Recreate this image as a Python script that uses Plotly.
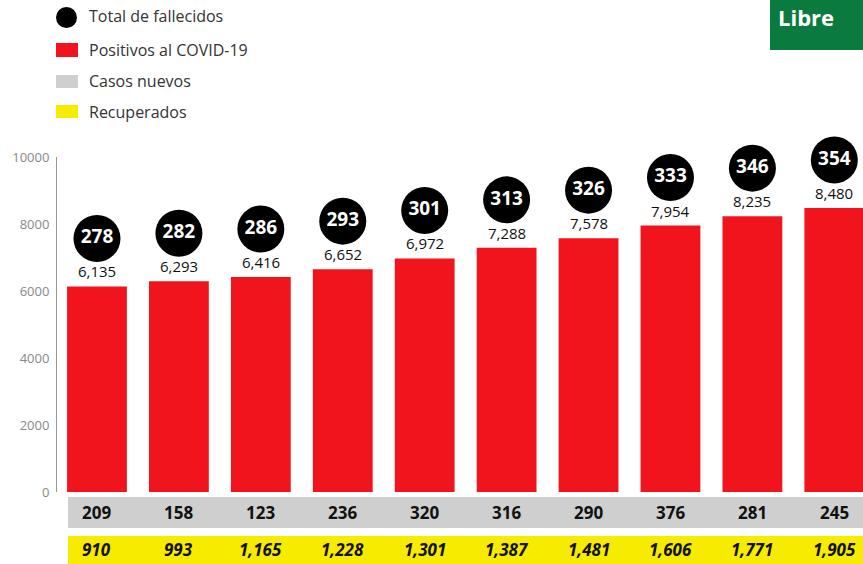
import plotly.graph_objects as go

categories = list(range(10))
positivos = [6135, 6293, 6416, 6652, 6972, 7288, 7578, 7954, 8235, 8480]
fallecidos = [278, 282, 286, 293, 301, 313, 326, 333, 346, 354]
casos_nuevos = [209, 158, 123, 236, 320, 316, 290, 376, 281, 245]
recuperados = [910, 993, 1165, 1228, 1301, 1387, 1481, 1606, 1771, 1905]
yticks = [0, 2000, 4000, 6000, 8000, 10000]

W, H = 863, 564
ML, MR, MT, MB = 57, 0, 157, 72
plot_h = H - MT - MB
px_per_unit = plot_h / 10000.0
circle_offset = 48 / px_per_unit

RED = "#f2141c"
GRAY = "#cfcfcf"
YELLOW = "#f7ec00"
FONT = "Open Sans"

fig = go.Figure()
fig.add_trace(go.Bar(x=categories, y=positivos, marker=dict(color=RED, line=dict(width=0)),
                     width=0.73, showlegend=False, hoverinfo="skip"))
fig.add_trace(go.Scatter(x=categories, y=[v + circle_offset for v in positivos],
                         mode="markers+text", text=[str(v) for v in fallecidos],
                         textposition="middle center",
                         textfont=dict(color="white", size=19, family=FONT, weight="bold"),
                         marker=dict(color="black", size=47, line=dict(width=0)),
                         cliponaxis=False, showlegend=False, hoverinfo="skip"))

ann = []
for i, v in enumerate(positivos):
    ann.append(dict(x=i, y=v, xref="x", yref="y", text=f"{v:,}", showarrow=False,
                    yshift=15, yanchor="middle", font=dict(size=15, color="#111", family=FONT)))

def py(p):
    return (H - MB - p) / plot_h

def px_x(p):
    return (p - ML) / (W - ML - MR)

for i, v in enumerate(casos_nuevos):
    ann.append(dict(x=i, y=py(512), xref="x", yref="paper", text=f"<b>{v:,}</b>", showarrow=False,
                    yanchor="middle", xanchor="center",
                    font=dict(size=17, color="#111", family=FONT)))
for i, v in enumerate(recuperados):
    ann.append(dict(x=i, y=py(549), xref="x", yref="paper", text=f"<b><i>{v:,}</i></b>", showarrow=False,
                    yanchor="middle", xanchor="center",
                    font=dict(size=17, color="#111", family=FONT)))

shapes = [
    dict(type="rect", xref="paper", yref="paper", x0=px_x(68), x1=1, y0=py(528), y1=py(497),
         fillcolor=GRAY, line=dict(width=0), layer="below"),
    dict(type="rect", xref="paper", yref="paper", x0=px_x(68), x1=1, y0=py(564), y1=py(536),
         fillcolor=YELLOW, line=dict(width=0), layer="below"),
    # legend
    dict(type="circle", xref="paper", yref="paper", x0=px_x(56), x1=px_x(77), y0=py(28), y1=py(7),
         fillcolor="black", line=dict(width=0)),
    dict(type="rect", xref="paper", yref="paper", x0=px_x(56), x1=px_x(78), y0=py(57), y1=py(43),
         fillcolor=RED, line=dict(width=0)),
    dict(type="rect", xref="paper", yref="paper", x0=px_x(56), x1=px_x(78), y0=py(88), y1=py(75),
         fillcolor=GRAY, line=dict(width=0)),
    dict(type="rect", xref="paper", yref="paper", x0=px_x(56), x1=px_x(78), y0=py(118), y1=py(105),
         fillcolor=YELLOW, line=dict(width=0)),
    # logo
    dict(type="rect", xref="paper", yref="paper", x0=px_x(770), x1=1, y0=py(50), y1=py(-5),
         fillcolor="#0b7a3e", line=dict(width=0)),
]
legend_items = [("Total de fallecidos", 16), ("Positivos al COVID-19", 50),
                ("Casos nuevos", 81), ("Recuperados", 112)]
for t, yp in legend_items:
    ann.append(dict(x=px_x(87), y=py(yp), xref="paper", yref="paper", text=t, showarrow=False,
                    xanchor="left", yanchor="middle", font=dict(size=16, color="#333", family=FONT)))
ann.append(dict(x=px_x(776), y=py(17), xref="paper", yref="paper", text="<b>Libre</b>", showarrow=False,
                xanchor="left", yanchor="middle", font=dict(size=22, color="white", family=FONT)))

fig.update_layout(
    width=W, height=H, margin=dict(l=ML, r=MR, t=MT, b=MB),
    paper_bgcolor="white", plot_bgcolor="white",
    xaxis=dict(range=[-0.488, 9.35], showticklabels=False, showgrid=False, zeroline=False,
               showline=False, fixedrange=True),
    yaxis=dict(range=[0, 10000], tickvals=yticks, ticktext=[str(t) for t in yticks],
               showgrid=False, zeroline=False, showline=True, linecolor="#999", linewidth=1,
               ticks="", ticklabelstandoff=4,
               tickfont=dict(size=13, color="#888", family=FONT), fixedrange=True),
    shapes=shapes, annotations=ann, showlegend=False,
)
fig.write_html("out.html", config={"displayModeBar": False},
               post_script="document.body.style.margin='0';document.body.style.overflow='hidden';")
